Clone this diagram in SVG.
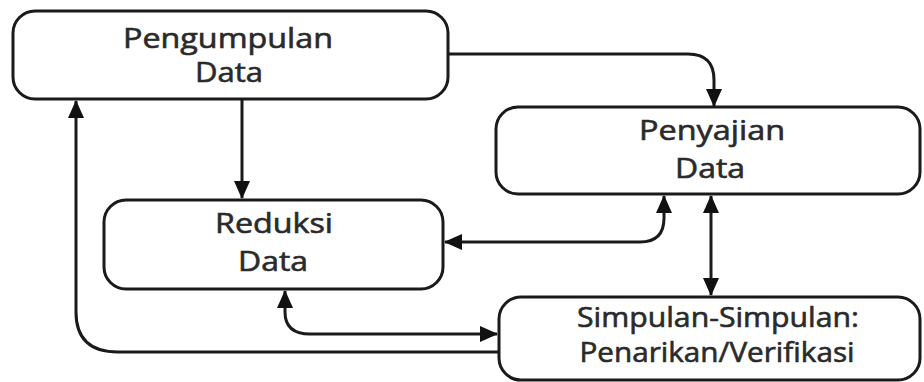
<svg xmlns="http://www.w3.org/2000/svg" width="924" height="382" viewBox="0 0 924 382">
<style>
.box{fill:#fff;stroke:#1a1a1a;stroke-width:3}
.lbl{font-family:"Open Sans","DejaVu Sans",sans-serif;font-size:27px;fill:#2a2a2a;stroke:#2a2a2a;stroke-width:0.6;text-anchor:middle}
.con{fill:none;stroke:#1a1a1a;stroke-width:3}
</style>
<defs>
<marker id="ah" markerUnits="userSpaceOnUse" markerWidth="18" markerHeight="16" viewBox="0 0 18 16" refX="17" refY="8" orient="auto-start-reverse">
<path d="M0,0 L18,8 L0,16 Z" fill="#111"/>
</marker>
</defs>
<rect width="924" height="382" fill="#fff"/>
<g id="connectors">
<path class="con" d="M448,54 H688 Q714,54 714,80 V106" marker-end="url(#ah)"/>
<path class="con" d="M242,99 V198" stroke="#555" stroke-width="4" marker-end="url(#ah)"/>
<path class="con" d="M498,352 H118 Q76,352 76,312 V101" marker-end="url(#ah)"/>
<path class="con" d="M285,291 V312 Q285,334 310,334 H497" marker-start="url(#ah)" marker-end="url(#ah)"/>
<path class="con" d="M445,242 H640 Q664,242 664,218 V196" marker-start="url(#ah)" marker-end="url(#ah)"/>
<path class="con" d="M711,196 V295" marker-start="url(#ah)" marker-end="url(#ah)"/>
</g>
<g id="pengumpulan">
<rect class="box" x="13" y="11" width="435" height="88" rx="22"/>
<text class="lbl" x="228" y="48" textLength="210" lengthAdjust="spacingAndGlyphs">Pengumpulan</text>
<text class="lbl" x="229" y="82" textLength="68" lengthAdjust="spacingAndGlyphs">Data</text>
</g>
<g id="penyajian">
<rect class="box" x="496" y="107" width="424" height="87" rx="22"/>
<text class="lbl" x="712" y="140" textLength="146" lengthAdjust="spacingAndGlyphs">Penyajian</text>
<text class="lbl" x="710" y="178" textLength="70" lengthAdjust="spacingAndGlyphs">Data</text>
</g>
<g id="reduksi">
<rect class="box" x="104" y="200" width="339" height="89" rx="22"/>
<text class="lbl" x="274" y="233" textLength="118" lengthAdjust="spacingAndGlyphs">Reduksi</text>
<text class="lbl" x="273" y="271" textLength="70" lengthAdjust="spacingAndGlyphs">Data</text>
</g>
<g id="simpulan">
<rect class="box" x="499" y="297" width="421" height="83" rx="22"/>
<text class="lbl" x="718" y="327" textLength="282" lengthAdjust="spacingAndGlyphs">Simpulan-Simpulan:</text>
<text class="lbl" x="717" y="362" textLength="275" lengthAdjust="spacingAndGlyphs">Penarikan/Verifikasi</text>
</g>
</svg>
